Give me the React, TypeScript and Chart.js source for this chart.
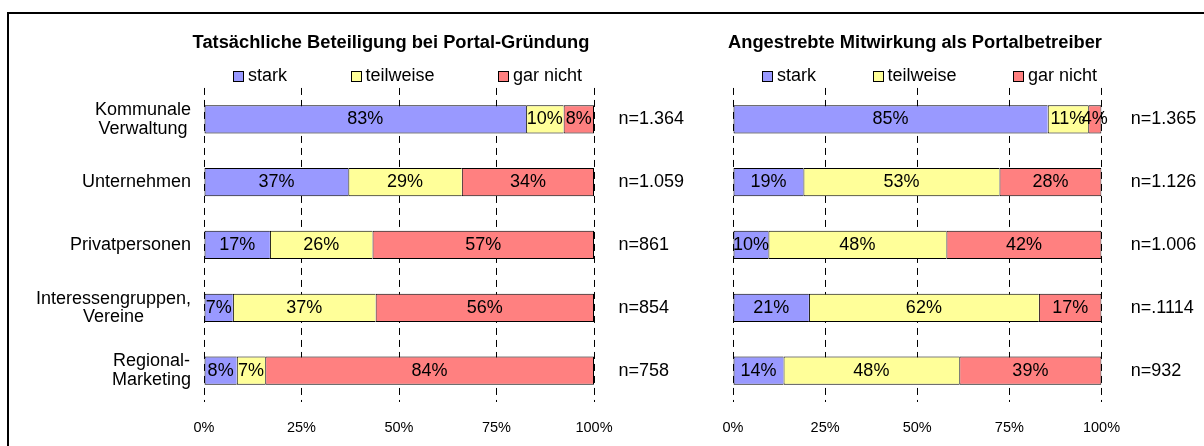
import React, { useEffect, useRef } from 'react';
import { Chart, registerables } from 'chart.js';

Chart.register(...registerables);

const FONT = "'Liberation Sans', Arial, sans-serif";
Chart.defaults.font.family = FONT;
Chart.defaults.color = '#000';

// ---- data ----
const categories: (string | string[])[] = [
  ['Kommunale', 'Verwaltung'],
  'Unternehmen',
  'Privatpersonen',
  ['Interessengruppen,', 'Vereine'],
  ['Regional-', 'Marketing'],
];
const seriesNames = ['stark', 'teilweise', 'gar nicht'];
const seriesColors = ['#9999FF', '#FFFF99', '#FF8080'];

const leftTitle = 'Tatsächliche Beteiligung bei Portal-Gründung';
const leftStark = [82.6, 37.0, 16.9, 7.4, 8.4];
const leftTeilweise = [9.6, 29.1, 26.3, 36.6, 7.3];
const leftGarNicht = [7.8, 33.9, 56.8, 56.0, 84.3];
const leftN = ['n=1.364', 'n=1.059', 'n=861', 'n=854', 'n=758'];

const rightTitle = 'Angestrebte Mitwirkung als Portalbetreiber';
const rightStark = [85.4, 19.1, 9.6, 20.6, 13.7];
const rightTeilweise = [11.0, 53.2, 48.3, 62.4, 47.7];
const rightGarNicht = [3.6, 27.7, 42.1, 17.0, 38.6];
const rightN = ['n=1.365', 'n=1.126', 'n=1.006', 'n=.1114', 'n=932'];

const xTicks = [0, 25, 50, 75, 100];

// ---- plugins ----
const barLabelPlugin = {
  id: 'barLabels',
  afterDatasetsDraw(chart: any) {
    const ctx = chart.ctx;
    ctx.save();
    ctx.font = `18px ${FONT}`;
    ctx.fillStyle = '#000';
    ctx.textAlign = 'center';
    ctx.textBaseline = 'middle';
    chart.data.datasets.forEach((ds: any, i: number) => {
      const meta = chart.getDatasetMeta(i);
      meta.data.forEach((el: any, j: number) => {
        const v = ds.data[j];
        const p = el.getProps(['x', 'base', 'y'], true);
        ctx.fillText(Math.round(v) + '%', (p.x + p.base) / 2, p.y);
      });
    });
    ctx.restore();
  },
};

// category labels: block right-aligned to the axis, lines centred within the block
const catLabelPlugin = {
  id: 'catLabels',
  afterDraw(chart: any, _args: any, opts: any) {
    if (!opts.display) return;
    const ctx = chart.ctx;
    const scale = chart.scales.y;
    ctx.save();
    ctx.font = `18px ${FONT}`;
    ctx.fillStyle = '#000';
    ctx.textAlign = 'center';
    ctx.textBaseline = 'middle';
    const right = chart.chartArea.left - opts.padding;
    chart.data.labels.forEach((lab: any, i: number) => {
      const lines: string[] = Array.isArray(lab) ? lab : [lab];
      const w = Math.max(...lines.map((l) => ctx.measureText(l).width));
      const cx = right - w / 2;
      const y0 = scale.getPixelForTick(i) - ((lines.length - 1) * opts.lineHeight) / 2;
      lines.forEach((l, k) => ctx.fillText(l, cx, y0 + k * opts.lineHeight));
    });
    ctx.restore();
  },
};

const gapLegendPlugin = {
  id: 'gapLegend',
  afterDraw(chart: any, _args: any, opts: any) {
    const ctx = chart.ctx;
    ctx.save();
    ctx.font = `18px ${FONT}`;
    ctx.textAlign = 'left';
    ctx.textBaseline = 'middle';
    const box = opts.box;
    let x = chart.chartArea.left + opts.offset;
    const y = opts.y;
    chart.data.datasets.forEach((ds: any) => {
      const bx = Math.round(x);
      const by = Math.round(y - box / 2);
      ctx.fillStyle = ds.backgroundColor;
      ctx.fillRect(bx, by, box, box);
      ctx.strokeStyle = '#000';
      ctx.lineWidth = 1;
      ctx.strokeRect(bx + 0.5, by + 0.5, box - 1, box - 1);
      ctx.fillStyle = '#000';
      const tx = x + box + 4;
      ctx.fillText(ds.label, tx, y);
      x = tx + ctx.measureText(ds.label).width + opts.gap;
    });
    ctx.restore();
  },
};

type PanelProps = {
  left: number;
  width: number;
  title: string;
  stark: number[];
  teilweise: number[];
  garNicht: number[];
  nLabels: string[];
  showCats: boolean;
  yWidth: number;
  y2Width: number;
  y2Pad: number;
  legendGap: number;
};

function Panel(p: PanelProps) {
  const ref = useRef<HTMLCanvasElement>(null);
  useEffect(() => {
    if (!ref.current) return;
    const values = [p.stark, p.teilweise, p.garNicht];
    const chart = new Chart(ref.current, {
      type: 'bar',
      data: {
        labels: categories as any,
        datasets: values.map((d, i) => ({
          label: seriesNames[i],
          data: d,
          backgroundColor: seriesColors[i],
          borderColor: '#000',
          borderWidth: i === values.length - 1 ? 1 : { top: 1, bottom: 1, left: 1, right: 0 },
          borderSkipped: false,
          barPercentage: 0.45,
          categoryPercentage: 1,
        })),
      },
      options: {
        indexAxis: 'y',
        responsive: false,
        animation: false,
        events: [],
        layout: { padding: 0 },
        scales: {
          x: {
            type: 'linear',
            stacked: true,
            min: xTicks[0],
            max: xTicks[xTicks.length - 1],
            ticks: {
              stepSize: xTicks[1] - xTicks[0],
              callback: (v: any) => v + '%',
              font: { size: 14.5 },
              padding: 17,
              color: '#000',
            },
            grid: { color: '#000', lineWidth: 1, drawTicks: false },
            border: { display: false, dash: [7, 5] },
            afterFit: (s: any) => {
              s.height = 44;
            },
          },
          y: {
            type: 'category',
            stacked: true,
            ticks: { display: false },
            grid: { display: false, drawTicks: false },
            border: { display: false },
            afterFit: (s: any) => {
              s.width = p.yWidth;
            },
          },
          y2: {
            type: 'category',
            position: 'right',
            labels: p.nLabels,
            offset: true,
            ticks: { font: { size: 18 }, padding: p.y2Pad, color: '#000' },
            grid: { display: false, drawTicks: false },
            border: { display: false },
            afterFit: (s: any) => {
              s.width = p.y2Width;
            },
          },
        } as any,
        plugins: {
          legend: { display: false },
          tooltip: { enabled: false },
          title: {
            display: true,
            text: p.title,
            color: '#000',
            font: { size: 18.3, weight: 'bold' },
            padding: { top: 32, bottom: 34 },
          },
          gapLegend: { offset: 29, gap: p.legendGap, y: 76, box: 11 },
          catLabels: { display: p.showCats, padding: 13, lineHeight: 18.5 },
        } as any,
      },
      plugins: [barLabelPlugin, catLabelPlugin, gapLegendPlugin],
    });
    return () => chart.destroy();
  }, []);
  return (
    <canvas
      ref={ref}
      width={p.width}
      height={446}
      style={{ position: 'absolute', left: p.left, top: 0, width: p.width, height: 446 }}
    />
  );
}

export default function App() {
  return (
    <div
      style={{
        position: 'fixed',
        left: 0,
        top: 0,
        width: 1204,
        height: 446,
        background: '#fff',
        overflow: 'hidden',
      }}
    >
      <div
        style={{
          position: 'absolute',
          left: 7,
          top: 12,
          width: 1300,
          height: 500,
          borderTop: '2px solid #000',
          borderLeft: '2px solid #000',
        }}
      />
      <Panel
        left={0}
        width={782}
        title={leftTitle}
        stark={leftStark}
        teilweise={leftTeilweise}
        garNicht={leftGarNicht}
        nLabels={leftN}
        showCats={true}
        yWidth={204}
        y2Width={188}
        y2Pad={24.5}
        legendGap={63.5}
      />
      <Panel
        left={626}
        width={578}
        title={rightTitle}
        stark={rightStark}
        teilweise={rightTeilweise}
        garNicht={rightGarNicht}
        nLabels={rightN}
        showCats={false}
        yWidth={107}
        y2Width={102.5}
        y2Pad={29.3}
        legendGap={56.5}
      />
    </div>
  );
}
